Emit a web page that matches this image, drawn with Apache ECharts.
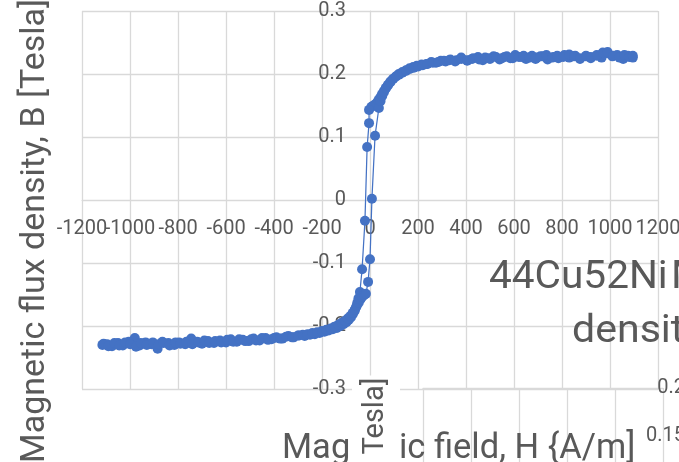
<!DOCTYPE html>
<html><head><meta charset="utf-8">
<script src="https://cdn.jsdelivr.net/npm/echarts@6/dist/echarts.min.js"></script>
<style>html,body{margin:0;padding:0;background:#fff}#c{width:679px;height:462px}</style>
</head><body><div id="c"></div>
<script>
// Descending branch (H from +sat to -sat)
const fieldDown = [1095,1075,1055,1030,1010,990,965,945,920,900,875,855,830,810,785,765,740,720,695,675,650,630,605,585,560,540,515,495,470,450,425,405,380,360,335,315,295,275,255,235,215,195,180,165,150,135,120,108,96,85,75,66,58,50,43,36,30,22,14,6,-4,-4,-12,-21,-33,-42,-48,-53,-58,-64,-71,-79,-88,-98,-110,-123,-138,-155,-172,-190,-210,-230,-250,-272,-295,-318,-340,-365,-390,-410,-435,-460,-485,-505,-530,-555,-580,-600,-625,-650,-675,-700,-720,-745,-770,-795,-815,-840,-865,-885,-910,-935,-960,-980,-1005,-1030,-1050,-1075,-1095,-1115];
const fluxDown = [0.226,0.229,0.224,0.230,0.228,0.233,0.226,0.229,0.225,0.228,0.224,0.229,0.226,0.230,0.225,0.227,0.223,0.228,0.226,0.229,0.224,0.227,0.230,0.225,0.227,0.223,0.228,0.225,0.222,0.227,0.224,0.221,0.226,0.222,0.223,0.220,0.221,0.218,0.219,0.216,0.215,0.213,0.211,0.209,0.206,0.203,0.200,0.196,0.192,0.188,0.183,0.178,0.173,0.168,0.163,0.159,0.155,0.152,0.150,0.148,0.143,0.122,0.084,-0.033,-0.110,-0.146,-0.156,-0.163,-0.170,-0.176,-0.181,-0.186,-0.190,-0.194,-0.197,-0.200,-0.203,-0.205,-0.207,-0.209,-0.211,-0.213,-0.214,-0.216,-0.215,-0.218,-0.216,-0.220,-0.218,-0.221,-0.219,-0.223,-0.220,-0.224,-0.222,-0.225,-0.221,-0.226,-0.223,-0.227,-0.224,-0.228,-0.225,-0.220,-0.229,-0.226,-0.230,-0.227,-0.225,-0.236,-0.229,-0.226,-0.231,-0.219,-0.225,-0.231,-0.227,-0.232,-0.229,-0.230];
// Ascending branch (H from -sat to +sat)
const fieldUp = [-1110,-1090,-1065,-1045,-1020,-1000,-975,-955,-930,-905,-880,-860,-835,-810,-790,-765,-740,-715,-690,-670,-645,-620,-595,-570,-545,-520,-495,-475,-450,-425,-400,-375,-350,-325,-300,-280,-260,-240,-220,-200,-182,-164,-148,-132,-118,-105,-93,-82,-72,-63,-55,-47,-40,-33,-25,-17,-8,0,8,21,37,44,51,58,66,75,85,96,108,121,135,150,166,183,201,220,240,262,285,308,330,355,380,405,430,455,480,500,525,550,570,595,620,640,665,690,710,735,760,780,805,830,850,875,900,920,945,970,990,1015,1040,1060,1080,1095];
const fluxUp = [-0.228,-0.232,-0.227,-0.231,-0.226,-0.229,-0.233,-0.227,-0.230,-0.226,-0.229,-0.227,-0.231,-0.226,-0.228,-0.225,-0.229,-0.226,-0.223,-0.227,-0.224,-0.226,-0.222,-0.225,-0.221,-0.224,-0.221,-0.223,-0.219,-0.222,-0.219,-0.220,-0.217,-0.218,-0.215,-0.214,-0.213,-0.211,-0.210,-0.208,-0.206,-0.204,-0.201,-0.198,-0.195,-0.192,-0.188,-0.184,-0.179,-0.174,-0.168,-0.163,-0.158,-0.154,-0.151,-0.149,-0.130,-0.094,0.002,0.102,0.146,0.157,0.165,0.171,0.177,0.182,0.187,0.192,0.196,0.199,0.202,0.205,0.208,0.210,0.212,0.214,0.216,0.218,0.219,0.221,0.222,0.220,0.224,0.222,0.225,0.223,0.226,0.224,0.227,0.225,0.228,0.225,0.227,0.229,0.226,0.224,0.228,0.230,0.226,0.229,0.227,0.231,0.228,0.225,0.229,0.227,0.230,0.234,0.235,0.229,0.226,0.230,0.227,0.229];

// Tick labels of the H axis (two label rows share one axis position so none is dropped)
const xTickMain = [-1200,-800,-600,-400,-200,0,200,400,600,800,1000,1200];
const xTickExtra = [-1000];

const xTitle = 'Magnetic field, H {A/m]';
const yTitle = 'Magnetic flux density, B [Tesla]';
const otherTitle1a = '44Cu52Ni';
const otherTitle1b = 'Magnetic flux';
const otherTitle2 = 'density, B [Tesla]';
const otherYTitle = 'Tesla]';

const FONT = 'Roboto';
const GREY = '#595959';
const GRID = '#d9d9d9';
const BLUE = '#4472C4';

const loop = fieldDown.map((h, i) => [h, fluxDown[i]])
  .concat(fieldUp.map((h, i) => [h, fluxUp[i]]));

const xLabelStyle = {color: GREY, fontFamily: FONT, fontSize: 20, margin: 19,
                     showMinLabel: true, showMaxLabel: true, hideOverlap: false,
                     formatter: v => String(v)};

const chart = echarts.init(document.getElementById('c'), null, {renderer: 'canvas'});
chart.setOption({
  animation: false,
  backgroundColor: '#fff',
  grid: [
    {left: 82, top: 11, width: 576, height: 378, outerBoundsMode: 'none', containLabel: false},
    {left: 423, top: 388, width: 240, height: 96, outerBoundsMode: 'none', containLabel: false}
  ],
  xAxis: [
    {gridIndex: 0, type: 'value', min: -1200, max: 1200, interval: 200, position: 'bottom', offset: -189,
     axisLine: {onZero: false, lineStyle: {color: GRID, width: 1}},
     axisTick: {show: false},
     splitLine: {lineStyle: {color: GRID, width: 1.3}},
     axisLabel: Object.assign({customValues: xTickMain}, xLabelStyle)},
    {gridIndex: 1, type: 'value', min: 0, max: 5, interval: 1, position: 'top',
     axisLine: {show: true, onZero: false, lineStyle: {color: GRID, width: 1.3}},
     axisTick: {show: false}, axisLabel: {show: false},
     splitLine: {lineStyle: {color: GRID, width: 1.3}}},
    {gridIndex: 0, type: 'value', min: -1200, max: 1200, interval: 200, position: 'bottom', offset: -189,
     axisLine: {show: false, onZero: false}, axisTick: {show: false}, splitLine: {show: false},
     axisLabel: Object.assign({customValues: xTickExtra}, xLabelStyle)}
  ],
  yAxis: [
    {gridIndex: 0, type: 'value', min: -0.3, max: 0.3, interval: 0.1, position: 'left', offset: -288,
     axisLine: {onZero: false, lineStyle: {color: GRID, width: 1}},
     axisTick: {show: false},
     splitLine: {lineStyle: {color: GRID, width: 1.3}},
     axisLabel: {color: GREY, fontFamily: FONT, fontSize: 20, margin: 24,
                 showMinLabel: true, showMaxLabel: true, hideOverlap: false,
                 formatter: v => String(Math.round(v * 10) / 10)}},
    {gridIndex: 1, type: 'value', min: 0.1, max: 0.2, interval: 0.05, position: 'right',
     axisLine: {show: false}, axisTick: {show: false},
     splitLine: {show: false},
     axisLabel: {color: GREY, fontFamily: FONT, fontSize: 20, margin: 22, align: 'right',
                 showMinLabel: true, showMaxLabel: true, hideOverlap: false,
                 formatter: v => String(Math.round(v * 100) / 100)}}
  ],
  series: [{
    type: 'line', xAxisIndex: 0, yAxisIndex: 0, data: loop,
    symbol: 'circle', symbolSize: 10, showSymbol: true,
    itemStyle: {color: BLUE}, lineStyle: {color: BLUE, width: 1.25}, z: 3
  }],
  graphic: [
    {type: 'text', x: 282, y: 449, z: 1,
     style: {text: xTitle, font: '34.5px Roboto', fill: GREY, align: 'left', verticalAlign: 'middle'}},
    {type: 'text', x: 35, y: 231, rotation: Math.PI / 2, z: 1,
     style: {text: yTitle, font: '34px Roboto', fill: GREY, align: 'center', verticalAlign: 'middle'}},
    {type: 'text', x: 489, y: 278, z: 1, scaleX: 1.04,
     style: {text: otherTitle1a, font: '39px Roboto', fill: GREY, align: 'left', verticalAlign: 'middle'}},
    {type: 'text', x: 671, y: 278, z: 1, scaleX: 1.07,
     style: {text: otherTitle1b, font: '39px Roboto', fill: GREY, align: 'left', verticalAlign: 'middle'}},
    {type: 'text', x: 572, y: 332, z: 1, scaleX: 1.04,
     style: {text: otherTitle2, font: '39.5px Roboto', fill: GREY, align: 'left', verticalAlign: 'middle'}},
    {type: 'text', x: 376, y: 426, rotation: Math.PI / 2, z: 10,
     style: {text: otherYTitle, font: '29px Roboto', fill: GREY, align: 'center', verticalAlign: 'middle',
             lineHeight: 40, backgroundColor: '#fff', padding: [4, 2, 4, 22]}}
  ]
});
</script></body></html>
